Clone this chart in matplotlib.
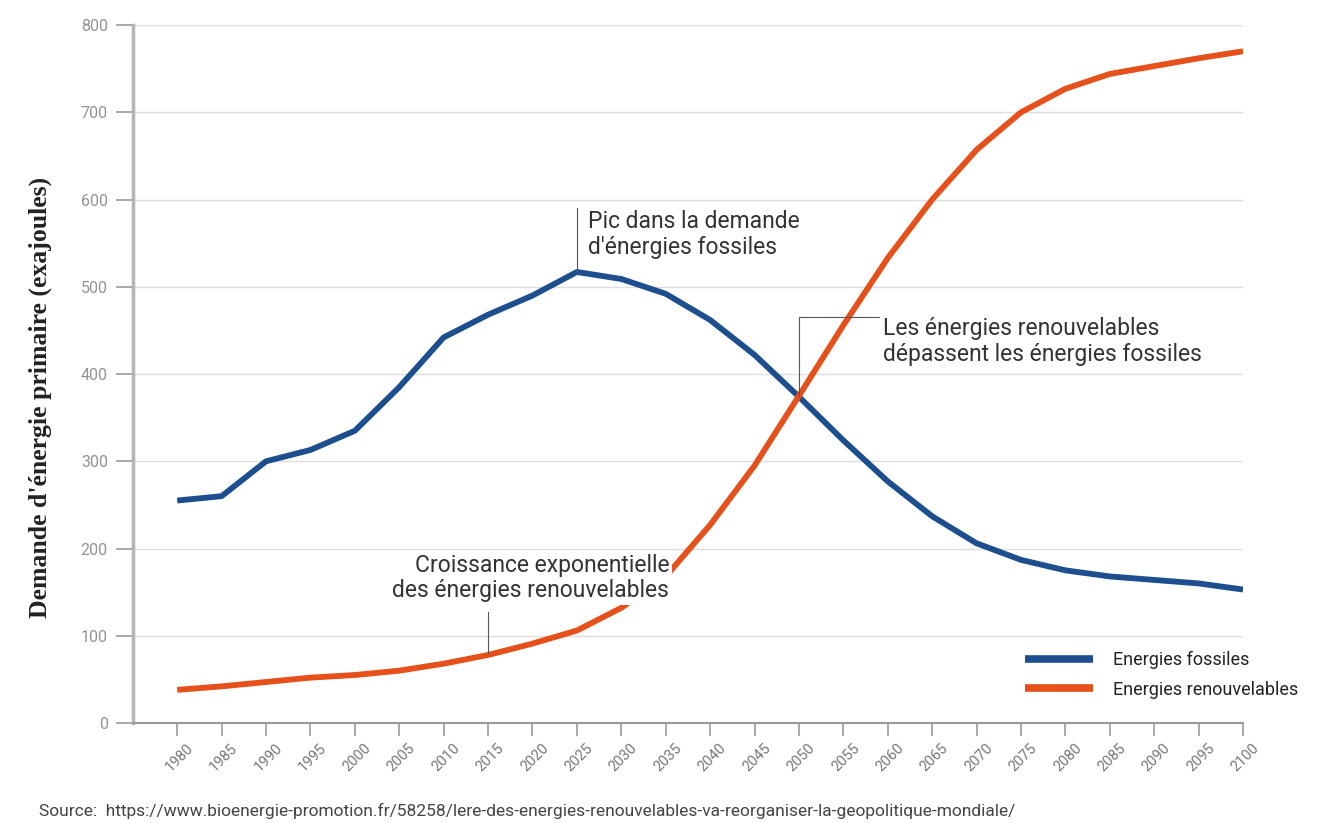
"""Demande d'énergie primaire : fossiles vs renouvelables, 1980-2100."""

import matplotlib
matplotlib.use("Agg")
import matplotlib.pyplot as plt
import matplotlib.transforms as mtransforms

years = list(range(1980, 2101, 5))
fossiles = [255, 260, 300, 313, 335, 385, 442, 468, 490, 517, 509, 492, 462, 422, 374,
            324, 277, 237, 206, 187, 175, 168, 164, 160, 153]
renouvelables = [38, 42, 47, 52, 55, 60, 68, 78, 91, 106, 132, 168, 227, 295, 375,
                 456, 533, 600, 657, 700, 727, 744, 753, 762, 770]
y_ticks = [0, 100, 200, 300, 400, 500, 600, 700, 800]

BLUE = "#1d4f8f"
ORANGE = "#e5501b"
TEXT = "#333333"
SANS = ["Liberation Sans Narrow", "Roboto", "DejaVu Sans"]

fig = plt.figure(figsize=(13.28, 8.23), dpi=100)
ax = fig.add_axes([0.1, 0.1215, 0.836, 0.848])

ax.set_xlim(1975, 2100)
ax.set_ylim(0, 800)
ax.set_yticks(y_ticks)
ax.set_xticks(years)
ax.grid(axis="y", color="#dddddd", linewidth=1.0, zorder=0)
ax.set_axisbelow(True)

for s in ("top", "right"):
    ax.spines[s].set_visible(False)
ax.spines["left"].set_color("#b5b5b5")
ax.spines["left"].set_linewidth(2.5)
ax.spines["bottom"].set_color("#9a9a9a")
ax.spines["bottom"].set_linewidth(1.5)
ax.tick_params(axis="y", length=12, width=1.2, color="#9a9a9a", labelcolor="#939393",
               labelsize=11.5, pad=6)
ax.tick_params(axis="x", length=9, width=1.2, color="#9a9a9a", labelcolor="#777777",
               labelsize=10.5, pad=4)
for lab in ax.get_yticklabels():
    lab.set_family(SANS)
shift = mtransforms.ScaledTranslation(9 / 100, 0, fig.dpi_scale_trans)
for lab in ax.get_xticklabels():
    lab.set_rotation(45)
    lab.set_ha("right")
    lab.set_rotation_mode("anchor")
    lab.set_family(SANS)
    lab.set_transform(lab.get_transform() + shift)

ax.plot(years, fossiles, color=BLUE, linewidth=4.2, solid_capstyle="butt",
        label="Energies fossiles", zorder=3)
ax.plot(years, renouvelables, color=ORANGE, linewidth=4.2, solid_capstyle="butt",
        label="Energies renouvelables", zorder=3)

ax.set_ylabel("Demande d'énergie primaire (exajoules)", family=["Liberation Serif"],
              fontweight="bold", fontsize=18.5, color="#222222")
ax.yaxis.set_label_coords(-0.073, 0.466)

# leader lines
lk = dict(color="#555555", linewidth=0.8, zorder=4)
ax.plot([2025, 2025], [517, 590], **lk)
ax.plot([2050, 2050, 2059], [375, 465, 465], **lk)
ax.plot([2015, 2015], [80, 127], **lk)

box = dict(facecolor="white", edgecolor="none", pad=2)
tk = dict(fontsize=16.5, color=TEXT, family=SANS, linespacing=1.15, bbox=box, zorder=5)
ax.text(2026.2, 588, "Pic dans la demande\nd'énergies fossiles", ha="left", va="top", **tk)
ax.text(2059.5, 465, "Les énergies renouvelables\ndépassent les énergies fossiles",
        ha="left", va="top", **tk)
ax.text(2035.4, 194, "Croissance exponentielle\ndes énergies renouvelables", ha="right",
        va="top", multialignment="right", **tk)

leg = ax.legend(loc="upper left", bbox_to_anchor=(0.797, 0.113), frameon=True,
                handlelength=3.8, handletextpad=1.1, labelspacing=0.62,
                prop={"family": SANS, "size": 13}, borderaxespad=0)
leg.get_frame().set_facecolor("white")
leg.get_frame().set_edgecolor("none")
for h in leg.get_lines():
    h.set_linewidth(5.5)
for t in leg.get_texts():
    t.set_color("#222222")

fig.text(0.029, 0.008,
         "Source:  https://www.bioenergie-promotion.fr/58258/lere-des-energies-renouvelables-va-reorganiser-la-geopolitique-mondiale/",
         fontsize=12.5, color="#444444", family=SANS)

fig.savefig("out.png", dpi=100)
